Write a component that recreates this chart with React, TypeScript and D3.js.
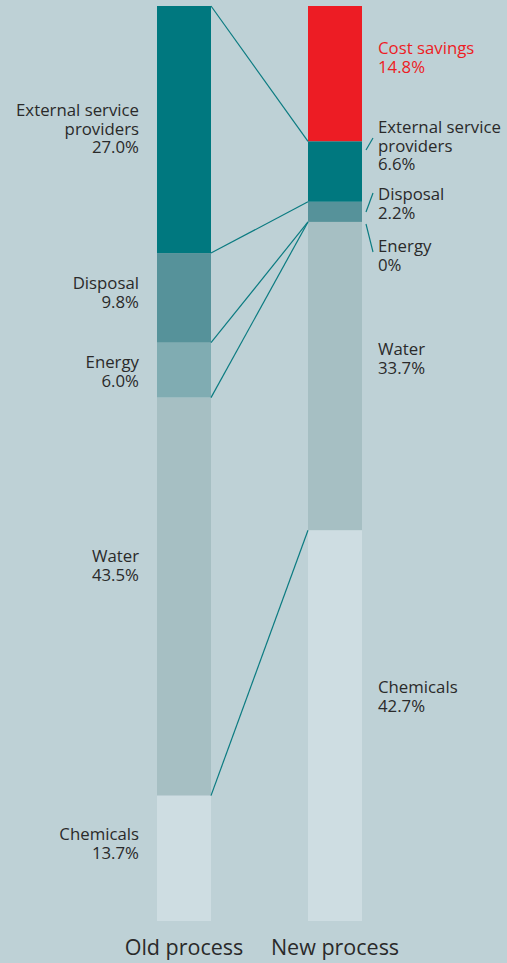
import React from "react";
import * as d3 from "d3";

const categories = ["External service providers", "Disposal", "Energy", "Water", "Chemicals"];
const oldValues = [27.0, 9.8, 6.0, 43.5, 13.7];
const newValues = [6.6, 2.2, 0, 33.7, 42.7];
const costSavings = 14.8;
const oldLabels = [["External service", "providers", "27.0%"], ["Disposal", "9.8%"], ["Energy", "6.0%"], ["Water", "43.5%"], ["Chemicals", "13.7%"]];
const newLabels = [["External service", "providers", "6.6%"], ["Disposal", "2.2%"], ["Energy", "0%"], ["Water", "33.7%"], ["Chemicals", "42.7%"]];
const costLabel = ["Cost savings", "14.8%"];
const processNames = ["Old process", "New process"];

const W = 507, H = 963;
const colors = ["#00787f", "#56929a", "#80acb2", "#a6bfc3", "#cedde2"];
const red = "#ed1c24";
const lineColor = "#0b7b81";
const textColor = "#2a2a2a";
const font = "'Open Sans', 'Noto Sans', sans-serif";
const fs = 16.8;
const lh = 18.5;

// label first-baseline layout (px)
const oldLabelY = [116, 289, 368, 562, 840];
const newLabelY = [133, 200, 252, 355, 693];
const costLabelY = 54;
// small leader ticks on right side: [y at bar, y at label]
const newLeaders: ([number, number] | null)[] = [[150, 138], [212, 193], [224, 252], null, null];

export default function App() {
  const y = d3.scaleLinear().domain([0, 100]).range([6, 921]);
  const bw = 54;
  const xOld = 157, xNew = 308;
  const xs = [xOld, xNew];

  const stack = (vals: number[], start: number) => {
    let acc = start;
    return vals.map((v) => {
      const s = acc;
      acc += v;
      return [s, acc];
    });
  };
  const oldSeg = stack(oldValues, 0);
  const newSeg = stack(newValues, costSavings);

  const renderLines = (lines: string[], xPos: number, y0: number, anchor: string, fill: string) => (
    <text x={xPos} y={y0} textAnchor={anchor} fontFamily={font} fontSize={fs} fill={fill}>
      {lines.map((l, i) => (
        <tspan key={i} x={xPos} dy={i === 0 ? 0 : lh}>{l}</tspan>
      ))}
    </text>
  );

  const connectors: [number, number][] = [[0, costSavings]];
  categories.forEach((c, i) => {
    if (i < categories.length - 1) connectors.push([oldSeg[i][1], newSeg[i][1]]);
  });

  return (
    <svg width={W} height={H} style={{ position: "absolute", left: 0, top: 0, background: "#bed1d6" }}>
      <rect x={0} y={0} width={W} height={H} fill="#bed1d6" />
      {oldSeg.map(([a, b], i) => (
        <rect key={"o" + i} x={xOld} y={y(a)} width={bw} height={y(b) - y(a)} fill={colors[i]} />
      ))}
      <rect x={xNew} y={y(0)} width={bw} height={y(costSavings) - y(0)} fill={red} />
      {newSeg.map(([a, b], i) => (
        <rect key={"n" + i} x={xNew} y={y(a)} width={bw} height={Math.max(0, y(b) - y(a))} fill={colors[i]} />
      ))}
      {connectors.map(([a, b], i) => (
        <line key={"c" + i} x1={xOld + bw} y1={y(a)} x2={xNew} y2={y(b)} stroke={lineColor} strokeWidth={1.2} />
      ))}
      {newLeaders.map((l, i) =>
        l ? <line key={"l" + i} x1={xNew + bw + 4} y1={l[0]} x2={xNew + bw + 11} y2={l[1]} stroke={lineColor} strokeWidth={1.2} /> : null
      )}
      {oldLabels.map((lines, i) => (
        <g key={"ol" + i}>{renderLines(lines, 139, oldLabelY[i], "end", textColor)}</g>
      ))}
      {renderLines(costLabel, 378, costLabelY, "start", red)}
      {newLabels.map((lines, i) => (
        <g key={"nl" + i}>{renderLines(lines, 378, newLabelY[i], "start", textColor)}</g>
      ))}
      {processNames.map((p, i) => (
        <text key={p} x={xs[i] + bw / 2} y={955} textAnchor="middle" fontFamily={font} fontSize={21.5} fill={textColor}>{p}</text>
      ))}
    </svg>
  );
}
